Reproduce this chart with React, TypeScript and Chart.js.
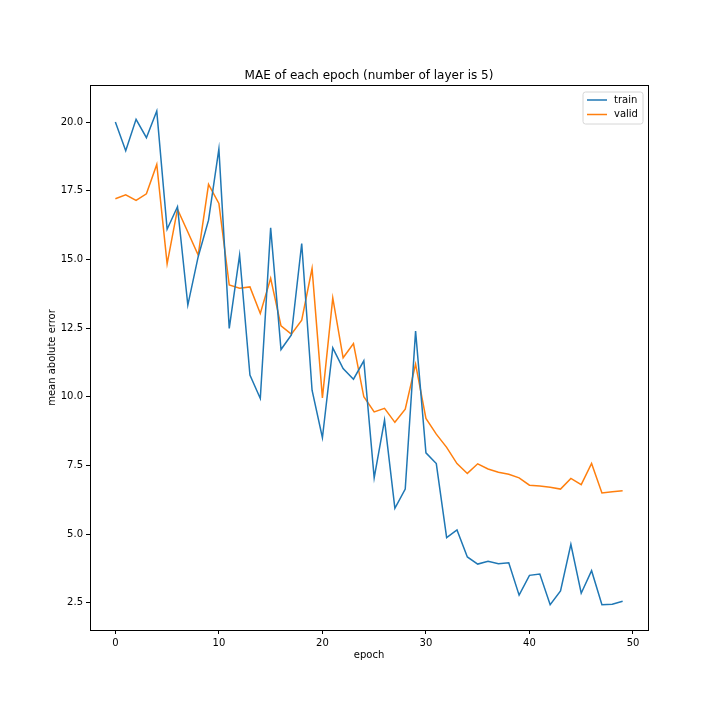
import React, { useEffect, useRef } from "react";
import { Chart, registerables } from "chart.js";

Chart.register(...registerables);

const epochs: number[] = Array.from({ length: 50 }, (_, i) => i);

const trainMAE: number[] = [
  20.0, 18.96, 20.1, 19.43, 20.4, 16.1, 16.92, 13.34, 15.1, 16.43,
  19.02, 12.49, 15.16, 10.79, 9.94, 16.15, 11.72, 12.25, 15.58, 10.24,
  8.51, 11.78, 11.03, 10.64, 11.31, 7.05, 9.15, 5.94, 6.64, 12.39,
  7.96, 7.57, 4.87, 5.15, 4.17, 3.91, 4.01, 3.92, 3.96, 2.78,
  3.5, 3.55, 2.43, 2.93, 4.63, 2.85, 3.67, 2.43, 2.45, 2.56,
];

const validMAE: number[] = [
  17.21, 17.35, 17.15, 17.39, 18.46, 14.84, 16.83, 16.0, 15.16, 17.73,
  17.04, 14.07, 13.95, 14.0, 13.03, 14.31, 12.58, 12.28, 12.79, 14.67,
  9.96, 13.6, 11.42, 11.94, 10.0, 9.45, 9.58, 9.07, 9.55, 11.19,
  9.21, 8.64, 8.16, 7.57, 7.21, 7.56, 7.37, 7.25, 7.18, 7.05,
  6.78, 6.75, 6.71, 6.64, 7.03, 6.8, 7.57, 6.5, 6.54, 6.58,
];

const xTicks: number[] = [0, 10, 20, 30, 40, 50];
const yTicks: number[] = [2.5, 5.0, 7.5, 10.0, 12.5, 15.0, 17.5, 20.0];

const seriesNames: string[] = ["train", "valid"];
const seriesColors: string[] = ["#1f77b4", "#ff7f0e"];

const titleText = "MAE of each epoch (number of layer is 5)";
const xLabel = "epoch";
const yLabel = "mean abolute error";

const FONT = "DejaVu Sans";

const decorPlugin = {
  id: "decor",
  afterDraw(chart: any) {
    const { ctx, chartArea } = chart;
    const { left, right, top, bottom } = chartArea;
    ctx.save();
    // frame
    ctx.strokeStyle = "#000";
    ctx.lineWidth = 1;
    ctx.strokeRect(Math.round(left) + 0.5, Math.round(top) + 0.5, Math.round(right - left), Math.round(bottom - top));
    // title
    const cx = (left + right) / 2;
    ctx.fillStyle = "#000";
    ctx.font = `12px "${FONT}"`;
    ctx.textAlign = "center";
    ctx.textBaseline = "alphabetic";
    ctx.fillText(titleText, cx, top - 6);
    // x label
    ctx.font = `10px "${FONT}"`;
    ctx.textBaseline = "middle";
    ctx.fillText(xLabel, cx, 655);
    // y label
    ctx.save();
    ctx.translate(52, (top + bottom) / 2);
    ctx.rotate(-Math.PI / 2);
    ctx.fillText(yLabel, 0, 0);
    ctx.restore();
    // legend
    const bx = right - 65;
    const by = top + 7;
    const bw = 60;
    const bh = 32;
    ctx.beginPath();
    const r = 2.5;
    ctx.moveTo(bx + r, by);
    ctx.lineTo(bx + bw - r, by);
    ctx.arcTo(bx + bw, by, bx + bw, by + r, r);
    ctx.lineTo(bx + bw, by + bh - r);
    ctx.arcTo(bx + bw, by + bh, bx + bw - r, by + bh, r);
    ctx.lineTo(bx + r, by + bh);
    ctx.arcTo(bx, by + bh, bx, by + bh - r, r);
    ctx.lineTo(bx, by + r);
    ctx.arcTo(bx, by, bx + r, by, r);
    ctx.closePath();
    ctx.fillStyle = "rgba(255,255,255,0.8)";
    ctx.fill();
    ctx.strokeStyle = "#d6d6d6";
    ctx.lineWidth = 1;
    ctx.stroke();
    seriesNames.forEach((name, i) => {
      const ly = by + 8 + i * 14.5;
      ctx.strokeStyle = seriesColors[i];
      ctx.lineWidth = 1.5;
      ctx.beginPath();
      ctx.moveTo(bx + 4, ly);
      ctx.lineTo(bx + 24, ly);
      ctx.stroke();
      ctx.fillStyle = "#000";
      ctx.font = `10px "${FONT}"`;
      ctx.textAlign = "left";
      ctx.textBaseline = "middle";
      ctx.fillText(name, bx + 31, ly);
    });
    ctx.restore();
  },
};

export default function App() {
  const ref = useRef<HTMLCanvasElement | null>(null);

  useEffect(() => {
    if (!ref.current) return;
    const tickFont = { family: FONT, size: 10 };
    const chart = new Chart(ref.current, {
      type: "line",
      data: {
        datasets: [trainMAE, validMAE].map((vals, i) => ({
          label: seriesNames[i],
          data: epochs.map((e, j) => ({ x: e, y: vals[j] })),
          borderColor: seriesColors[i],
          backgroundColor: seriesColors[i],
          borderWidth: 1.5,
          pointRadius: 0,
          tension: 0,
          fill: false,
        })),
      },
      options: {
        responsive: false,
        animation: false,
        layout: { padding: { top: 85, right: 72, left: 0, bottom: 0 } },
        plugins: {
          legend: { display: false },
          title: { display: false },
          tooltip: { enabled: false },
        },
        scales: {
          x: {
            type: "linear",
            min: -2.45,
            max: 51.45,
            afterBuildTicks: (scale: any) => {
              scale.ticks = xTicks.map((v) => ({ value: v }));
            },
            afterFit: (scale: any) => {
              scale.height = 90;
            },
            border: { display: false },
            grid: {
              drawOnChartArea: false,
              drawTicks: true,
              tickLength: 4,
              color: "#000",
              lineWidth: 1,
            },
            ticks: {
              font: tickFont,
              color: "#000",
              padding: 3,
              maxRotation: 0,
              callback: (v: any) => String(v),
            },
          },
          y: {
            type: "linear",
            min: 1.51,
            max: 21.35,
            afterBuildTicks: (scale: any) => {
              scale.ticks = yTicks.map((v) => ({ value: v }));
            },
            afterFit: (scale: any) => {
              scale.width = 90;
            },
            border: { display: false },
            grid: {
              drawOnChartArea: false,
              drawTicks: true,
              tickLength: 4,
              color: "#000",
              lineWidth: 1,
            },
            ticks: {
              font: tickFont,
              color: "#000",
              padding: 3,
              callback: (v: any) => Number(v).toFixed(1),
            },
          },
        },
      },
      plugins: [decorPlugin],
    });
    return () => chart.destroy();
  }, []);

  return (
    <div style={{ position: "absolute", left: 0, top: 0, width: 720, height: 720, background: "#fff" }}>
      <canvas ref={ref} width={720} height={720} />
    </div>
  );
}
